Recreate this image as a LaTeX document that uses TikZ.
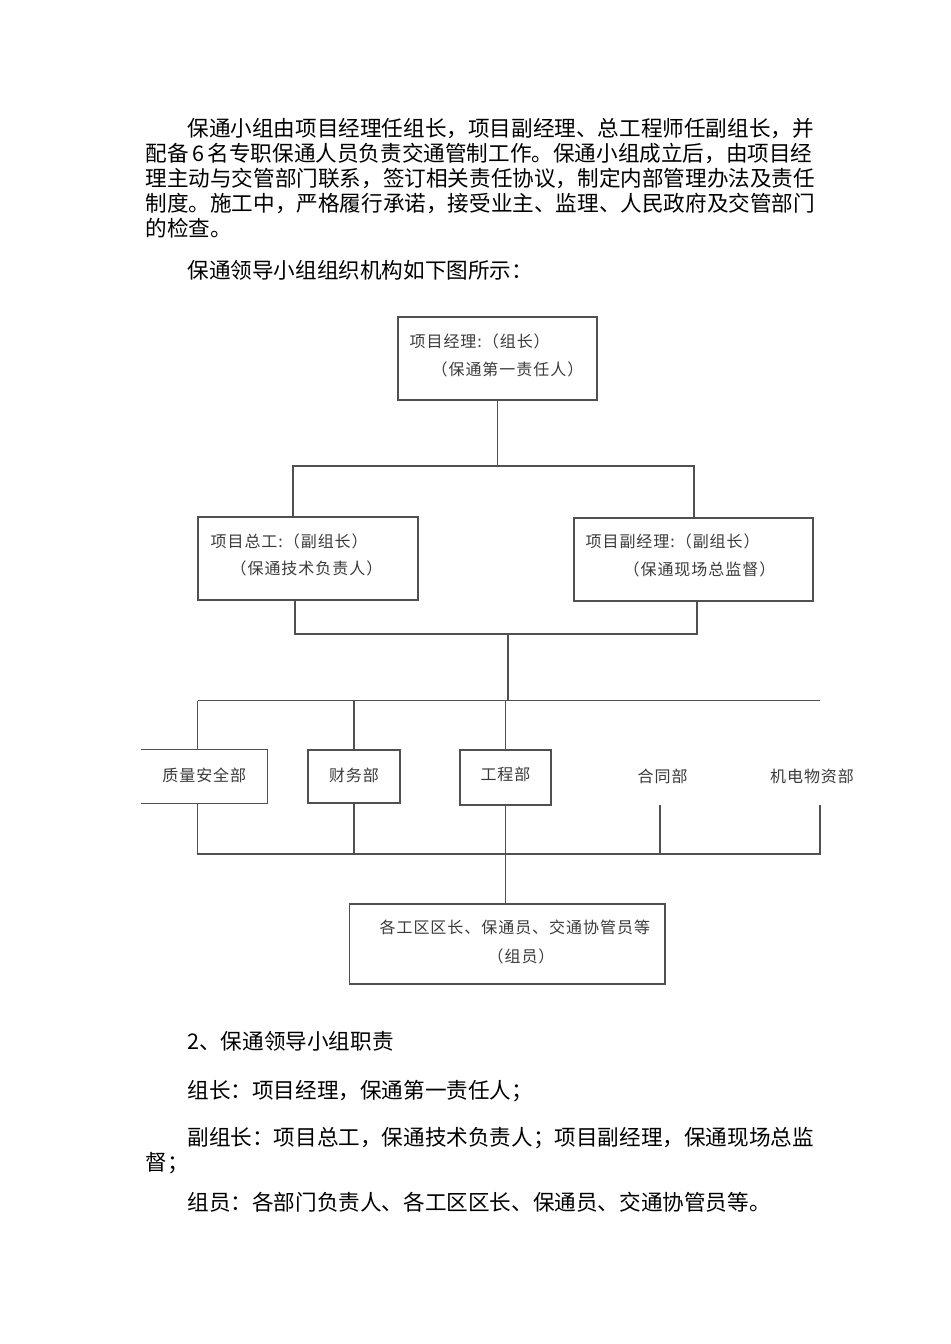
\documentclass[tikz,border=0pt]{standalone}
\usepackage{fontspec}
\newfontfamily\cjk{Noto Sans CJK SC}
\newfontfamily\cjkspaced[LetterSpace=6]{Noto Sans CJK SC}
\XeTeXlinebreaklocale "zh"
\XeTeXlinebreakskip=0pt plus 3pt minus 0.4pt
\usetikzlibrary{positioning, calc}
\definecolor{chartgray}{HTML}{505050}
\definecolor{labelgray}{HTML}{3A3A3A}

\tikzset{
  body/.style={font=\cjk\fontsize{10.8}{13}\selectfont, inner sep=0pt, anchor=base west},
  fullline/.style={body, text width=#1, align=justify},
  orgbox/.style={draw=chartgray, line width=0.8pt, inner sep=0pt},
  orgframe/.style={draw=chartgray, line width=0.8pt},
  orgtext/.style={font=\cjkspaced\fontsize{8}{10}\selectfont, text=labelgray, inner sep=0pt, anchor=west},
  link/.style={draw=chartgray, line width=0.65pt},
}
\newcommand{\jline}[1]{\parfillskip=0pt #1}

\begin{document}
\begin{tikzpicture}[x=0.5pt, y=-0.5pt]
    \useasboundingbox (0,0) rectangle (950,1344);

    % paragraph above the chart
    \node[fullline=314.5pt] (introA) at (187,136) {\jline{保通小组由项目经理任组长，项目副经理、总工程师任副组长，并}};
    \node[fullline=336.5pt] (introB) at (145,161) {\jline{配备\,6\,名专职保通人员负责交通管制工作。保通小组成立后，由项目经}};
    \node[fullline=336.5pt] (introC) at (145,186) {\jline{理主动与交管部门联系，签订相关责任协议，制定内部管理办法及责任}};
    \node[fullline=336.5pt] (introD) at (145,211) {\jline{制度。施工中，严格履行承诺，接受业主、监理、人民政府及交管部门}};
    \node[body] (introE) at (145,236) {的检查。};
    \node[body] (caption) at (187,278) {保通领导小组组织机构如下图所示：};

    % leader
    \node[orgbox, minimum width=99.5pt, minimum height=41.5pt] (leader) at (497.5,358.5) {};
    \node[orgtext] (leaderA) at ($(leader.north west)+(12,25)$) {项目经理:（组长）};
    \node[orgtext] (leaderB) at ($(leader.north west)+(34,53)$) {（保通第一责任人）};

    % deputies
    \node[orgbox, minimum width=110pt, minimum height=41.5pt] (chief) at (308,558.5) {};
    \node[orgtext] (chiefA) at ($(chief.north west)+(13,25)$) {项目总工:（副组长）};
    \node[orgtext] (chiefB) at ($(chief.north west)+(33,52)$) {（保通技术负责人）};

    \node[orgbox, minimum width=119.5pt, minimum height=41.5pt] (deputy) at (693.5,559.5) {};
    \node[orgtext] (deputyA) at ($(deputy.north west)+(12,24)$) {项目副经理:（副组长）};
    \node[orgtext] (deputyB) at ($(deputy.north west)+(50,52)$) {（保通现场总监督）};

    % departments
    \node[minimum width=62.75pt, minimum height=26.5pt, inner sep=0pt] (quality) at (204.25,776.5) {};
    \draw[orgframe] (quality.north west) -- (quality.north east) -- (quality.south east) -- (quality.south west);
    \node[orgtext, anchor=center] (qualityT) at ($(quality.center)+(0,-1.5)$) {质量安全部};

    \node[orgbox, minimum width=46pt, minimum height=26.5pt] (finance) at (354,776.5) {};
    \node[orgtext, anchor=center] (financeT) at ($(finance.center)+(0,-1.5)$) {财务部};

    \node[orgbox, minimum width=45.5pt, minimum height=27.5pt] (works) at (505.5,777.5) {};
    \node[orgtext, anchor=center] (worksT) at ($(works.center)+(0,-3.5)$) {工程部};

    \node[orgtext, anchor=center] (contract) at (662.6,776) {合同部};
    \node[orgtext, anchor=center] (mep) at (812,776) {机电物资部};

    % members
    \node[orgbox, minimum width=157.75pt, minimum height=40pt] (members) at (507.25,944) {};
    \node[orgtext] (membersA) at ($(members.north west)+(30.5,24)$) {各工区区长、保通员、交通协管员等};
    \node[orgtext] (membersB) at ($(members.north west)+(138.5,53)$) {（组员）};

    % buses
    \coordinate (busAleft) at (293,466);
    \coordinate (busAright) at (694,466);
    \coordinate (busBleft) at (295,634);
    \coordinate (busBright) at (697,634);
    \coordinate (busBmid) at (508,634);
    \coordinate (busCleft) at (197.5,700.5);
    \coordinate (busCright) at (820,700.5);
    \coordinate (busDleft) at (197.5,854);
    \coordinate (busDright) at (820,854);
    \coordinate (contractfoot) at (660,805);
    \coordinate (mepfoot) at (820,805);

    \draw[link] (leader.south) -- (leader.south |- busAleft);
    \draw[link] (busAleft |- chief.north) -- (busAleft) -- (busAright) -- (busAright |- deputy.north);
    \draw[link] (busBleft |- chief.south) -- (busBleft) -- (busBright) -- (busBright |- deputy.south);
    \draw[link] (busBmid) -- (busBmid |- busCleft);
    \draw[link] (busCleft) -- (busCright);
    \draw[link] (busCleft) -- (busCleft |- quality.north);
    \draw[link] (finance.north |- busCleft) -- (finance.north);
    \draw[link] (works.north |- busCleft) -- (works.north);
    \draw[link] (busDleft |- quality.south) -- (busDleft) -- (busDright) -- (mepfoot);
    \draw[link] (finance.south) -- (finance.south |- busDleft);
    \draw[link] (contractfoot) -- (contractfoot |- busDleft);
    \draw[link] (works.south) -- (works.south |- members.north);

    % duties
    \node[body] (dutyA) at (187,1049) {2、保通领导小组职责};
    \node[body] (dutyB) at (187,1098) {组长：项目经理，保通第一责任人；};
    \node[fullline=313.5pt] (dutyC) at (187,1145) {\jline{副组长：项目总工，保通技术负责人；项目副经理，保通现场总监}};
    \node[body] (dutyD) at (145,1170) {督；};
    \node[body] (dutyE) at (187,1210) {组员：各部门负责人、各工区区长、保通员、交通协管员等。};
\end{tikzpicture}
\end{document}
